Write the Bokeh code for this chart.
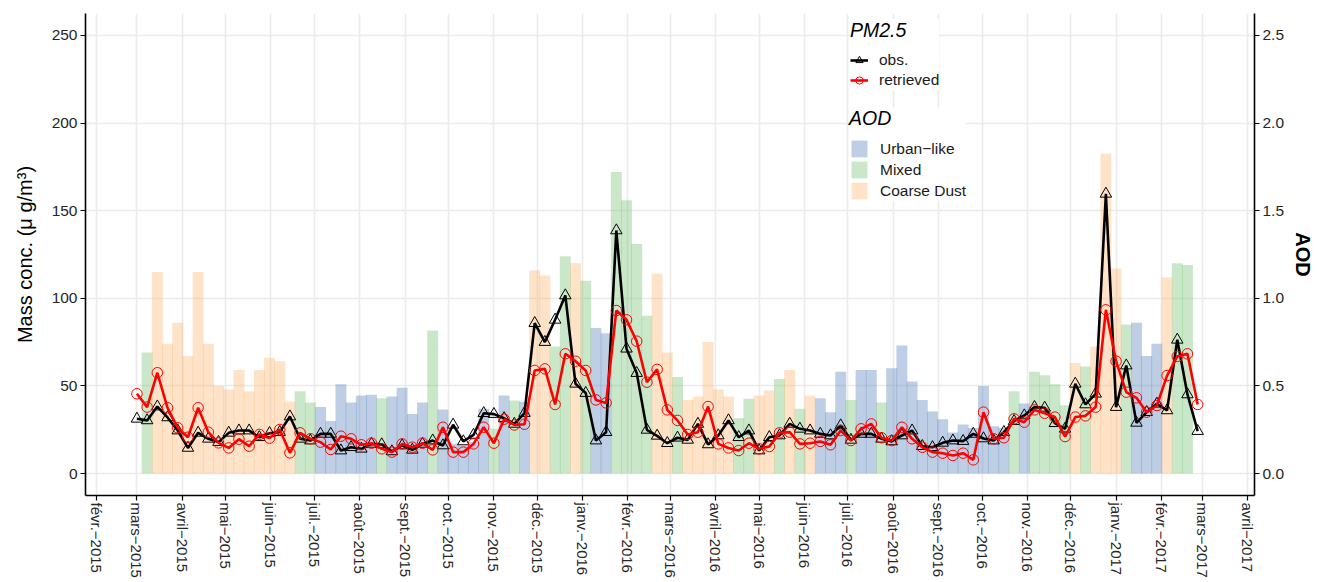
import pandas as pd
from bokeh.plotting import figure
from bokeh.models import (Range1d, LinearAxis, FixedTicker, PrintfTickFormatter,
                          Legend, LegendItem, ColumnDataSource)
from bokeh.embed import file_html
from bokeh.resources import INLINE

# ---- weekly series (first week starting 2015-03-01) ----
first_week = "2015-03-01"

pm_obs = [31.2, 30.3, 38.2, 32.0, 24.5, 14.6, 23.2, 19.8, 17.9, 23.2,
          24.5, 24.5, 20.7, 23.0, 23.6, 32.5, 19.8, 18.8, 22.6, 22.6,
          13.1, 15.0, 14.1, 16.9, 16.6, 12.6, 16.0, 13.5, 16.9, 18.8,
          16.0, 27.8, 18.3, 22.0, 34.4, 33.9, 31.5, 28.3, 34.5, 85.8,
          75.0, 87.7, 101.6, 51.2, 45.9, 18.8, 23.6, 138.7, 71.2, 57.3,
          24.9, 21.5, 17.3, 20.4, 19.2, 28.3, 16.6, 21.7, 30.3, 20.7,
          24.5, 13.1, 20.7, 21.7, 28.3, 25.5, 24.5, 22.6, 21.7, 27.4,
          19.2, 22.6, 22.6, 19.8, 18.3, 21.7, 24.5, 15.6, 15.0, 17.5,
          18.8, 18.5, 22.6, 20.0, 18.8, 23.6, 29.9, 33.1, 37.9, 37.5,
          28.7, 25.5, 51.2, 39.4, 45.5, 159.6, 37.9, 61.6, 28.9, 35.0,
          39.8, 36.0, 76.3, 45.1, 24.2]

pm_retrieved = [45.5, 37.9, 57.5, 37.5, 26.1, 20.7, 37.5, 23.6, 17.5, 14.6,
                19.6, 15.6, 22.3, 20.2, 25.1, 11.8, 23.2, 19.8, 17.9, 13.7,
                21.3, 19.8, 16.4, 17.3, 14.1, 12.2, 16.9, 15.0, 17.3, 13.5,
                26.4, 12.2, 12.2, 16.9, 26.4, 17.3, 31.0, 27.7, 28.1, 58.8,
                59.7, 39.4, 68.3, 64.1, 58.8, 42.0, 40.3, 93.0, 87.7, 75.5,
                52.1, 59.4, 36.3, 30.3, 22.3, 23.6, 38.2, 16.9, 14.6, 13.1,
                17.3, 14.1, 15.4, 23.2, 23.6, 16.9, 17.3, 18.3, 16.4, 24.5,
                18.8, 25.5, 28.3, 20.4, 18.8, 26.4, 19.8, 15.0, 12.2, 11.6,
                10.3, 11.6, 7.8, 35.0, 19.8, 20.4, 31.2, 29.3, 36.3, 34.4,
                32.2, 21.1, 32.2, 32.9, 37.9, 93.4, 64.1, 46.4, 43.2, 35.0,
                38.8, 55.9, 66.8, 68.3, 39.4]

aod = [None, 0.69, 1.15, 0.74, 0.86, 0.67, 1.15, 0.74, 0.50, 0.48,
       0.59, 0.47, 0.59, 0.66, 0.64, 0.41, 0.47, 0.405, 0.38, 0.30,
       0.51, 0.405, 0.445, 0.45, 0.43, 0.44, 0.49, 0.34, 0.405, 0.816,
       0.365, 0.17, 0.16, 0.18, 0.37, 0.255, 0.445, 0.417, 0.41, 1.16,
       1.13, 0.725, 1.24, 1.20, 1.10, 0.83, 0.80, 1.72, 1.56, 1.31,
       0.90, 1.14, 0.69, 0.55, 0.42, 0.44, 0.75, 0.48, 0.44, 0.316,
       0.426, 0.445, 0.474, 0.54, 0.59, 0.37, 0.445, 0.43, 0.35, 0.58,
       0.42, 0.59, 0.59, 0.405, 0.60, 0.73, 0.525, 0.42, 0.354, 0.31,
       0.234, 0.28, 0.26, 0.50, 0.27, 0.26, 0.47, 0.40, 0.58, 0.56,
       0.51, 0.39, 0.63, 0.61, 0.725, 1.825, 1.17, 0.85, 0.86, 0.67,
       0.74, 1.12, 1.20, 1.19, None]

aod_type = [None, "M", "C", "C", "C", "C", "C", "C", "C", "C",
            "C", "C", "C", "C", "C", "C", "M", "M", "U", "U",
            "U", "U", "U", "U", "M", "U", "U", "U", "U", "M",
            "U", "U", "U", "U", "U", "M", "U", "M", "U", "C",
            "C", "M", "M", "C", "M", "U", "U", "M", "M", "M",
            "M", "C", "C", "M", "C", "C", "C", "C", "C", "M",
            "M", "C", "C", "M", "C", "M", "C", "U", "U", "U",
            "M", "U", "U", "M", "U", "U", "U", "U", "U", "U",
            "U", "U", "U", "U", "U", "U", "M", "U", "M", "M",
            "M", "M", "C", "M", "C", "C", "C", "M", "U", "U",
            "U", "C", "M", "M", None]

aod_classes = [("U", "Urban\u2212like", "#4575B4"),
               ("M", "Mixed", "#66BD63"),
               ("C", "Coarse Dust", "#FDAE61")]

month_abbr = {1: "janv.", 2: "févr.", 3: "mars", 4: "avril", 5: "mai", 6: "juin",
              7: "juil.", 8: "août", 9: "sept.", 10: "oct.", 11: "nov.", 12: "déc."}

# ---- x positions in days from 2015-02-01 ----
origin = pd.Timestamp("2015-02-01")
weeks = pd.date_range(first_week, periods=len(pm_obs), freq="7D")
xdays = [(d - origin).days for d in weeks]

months = pd.date_range("2015-02-01", "2017-04-01", freq="MS")
month_ticks = [(m - origin).days for m in months]
month_labels = {(m - origin).days: f"{month_abbr[m.month]}\u2212{m.year}" for m in months}

FONT = "Liberation Sans"

p = figure(width=1317, height=582, output_backend="svg", toolbar_location=None,
           x_range=Range1d(-7.3, 795.0), y_range=Range1d(-12.55, 262.5),
           min_border_left=85, min_border_right=54, min_border_top=13,
           min_border_bottom=87)
p.outline_line_color = None
p.background_fill_color = "white"
p.border_fill_color = "white"

p.extra_y_ranges = {"aod": Range1d(-0.1255, 2.625)}

# ---- AOD bars, one renderer per aerosol class ----
bar_renderers = {}
for code, label, color in aod_classes:
    xs = [x for x, a, t in zip(xdays, aod, aod_type) if a is not None and t == code]
    tops = [a for a, t in zip(aod, aod_type) if a is not None and t == code]
    src = ColumnDataSource(dict(x=xs, top=tops))
    bar_renderers[code] = p.vbar(x="x", top="top", bottom=0, width=7.5, source=src,
                                 y_range_name="aod", fill_color=color,
                                 fill_alpha=0.35, line_color=None)

# ---- PM2.5 lines ----
pm_src = ColumnDataSource(dict(x=xdays, obs=pm_obs, ret=pm_retrieved))
obs_line = p.line("x", "obs", source=pm_src, line_color="black", line_width=2.6)
obs_pts = p.scatter("x", "obs", source=pm_src, marker="triangle", size=11.5,
                    fill_color=None, line_color="black", line_width=1)
ret_line = p.line("x", "ret", source=pm_src, line_color="red", line_width=2.6)
ret_pts = p.scatter("x", "ret", source=pm_src, marker="circle", size=10.5,
                    fill_color=None, line_color="red", line_width=1)

# ---- axes ----
xaxis = p.xaxis[0]
xaxis.ticker = FixedTicker(ticks=month_ticks)
xaxis.major_label_overrides = month_labels
xaxis.major_label_orientation = "vertical"
xaxis.minor_tick_line_color = None

yaxis = p.yaxis[0]
yaxis.ticker = FixedTicker(ticks=[0, 50, 100, 150, 200, 250])
yaxis.minor_tick_line_color = None
yaxis.axis_label = "Mass conc. (\u03bc g/m\u00b3)"
yaxis.axis_label_standoff = 13

raxis = LinearAxis(y_range_name="aod", ticker=FixedTicker(ticks=[0, 0.5, 1, 1.5, 2, 2.5]),
                   formatter=PrintfTickFormatter(format="%.1f"), axis_label="AOD")
raxis.minor_tick_line_color = None
raxis.axis_label_standoff = 5
p.add_layout(raxis, "right")

for ax in (xaxis, yaxis, raxis):
    ax.axis_line_color = "black"
    ax.axis_line_width = 1.6
    ax.major_tick_line_color = "black"
    ax.major_tick_line_width = 1.2
    ax.major_tick_out = 5
    ax.major_tick_in = 0
    ax.major_label_text_font = FONT
    ax.major_label_text_font_size = "15.5px"
    ax.major_label_text_color = "#262626"
    ax.major_label_standoff = 3
    ax.axis_label_text_font = FONT
    ax.axis_label_text_font_size = "20px"
    ax.axis_label_text_color = "black"
    ax.axis_label_text_font_style = "normal"
raxis.axis_label_text_font_style = "bold"
xaxis.major_label_text_font_size = "15px"
xaxis.major_label_standoff = 2

# ---- grid ----
p.xgrid.ticker = FixedTicker(ticks=month_ticks)
p.ygrid.ticker = FixedTicker(ticks=[0, 50, 100, 150, 200, 250])
for g in (p.xgrid[0], p.ygrid[0]):
    g.grid_line_color = "#EBEBEB"
    g.grid_line_width = 1.6

# ---- legends ----
leg_pm = Legend(items=[LegendItem(label="obs.", renderers=[obs_line, obs_pts]),
                       LegendItem(label="retrieved", renderers=[ret_line, ret_pts])],
                location=(765, 405), title="PM2.5")
leg_aod = Legend(items=[LegendItem(label=lab, renderers=[bar_renderers[c]])
                        for c, lab, _ in aod_classes],
                 location=(764, 294), title="AOD")

for lg, gw, gh in ((leg_pm, 18, 20), (leg_aod, 20, 21)):
    lg.title_text_font = FONT
    lg.title_text_font_style = "italic"
    lg.title_text_font_size = "19.5px"
    lg.title_text_color = "black"
    lg.title_standoff = 8
    lg.label_text_font = FONT
    lg.label_text_font_size = "15.5px"
    lg.label_text_color = "#1a1a1a"
    lg.glyph_width = gw
    lg.glyph_height = gh
    lg.label_height = gh
    lg.label_standoff = 11
    lg.spacing = 0
    lg.padding = 3
    lg.margin = 0
    lg.border_line_color = None
    lg.background_fill_color = "white"
    lg.background_fill_alpha = 1.0
    p.add_layout(lg, "center")

open("out.html", "w").write(file_html(p, INLINE))
